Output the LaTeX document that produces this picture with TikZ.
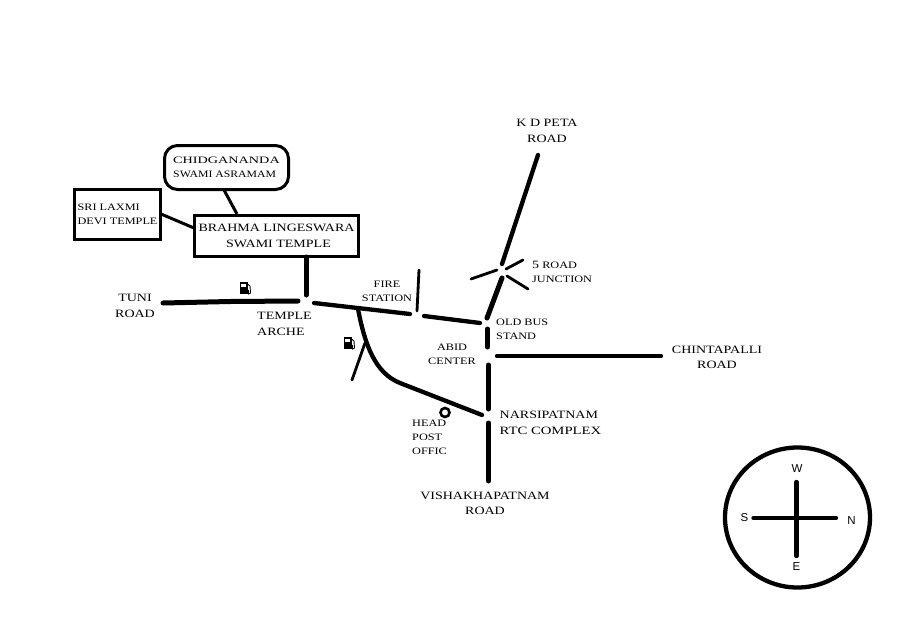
\documentclass[tikz,border=0pt]{standalone}
\usepackage{fontspec}
\usetikzlibrary{shapes.geometric}
\setmainfont[FakeStretch=1.25]{Liberation Serif}
\newfontfamily\compassfont{Liberation Sans}
\newcommand{\bigtxt}{\fontsize{11.2}{15.5}\selectfont}
\newcommand{\smalltxt}{\fontsize{9.8}{14}\selectfont}
\tikzset{
  road/.style={line width=5pt,line cap=round,black},
  midroad/.style={line width=4.3pt,line cap=round,black},
  lane/.style={line width=2.8pt,line cap=round,black},
  boxlink/.style={line width=3pt,black},
  bigbox/.style={draw,line width=3pt,inner sep=0pt,align=center,font=\bigtxt},
  smallbox/.style={draw,line width=3pt,inner sep=0pt,align=left,font=\smalltxt},
  biglabel/.style={inner sep=0pt,align=center,font=\bigtxt},
  smalllabel/.style={inner sep=0pt,align=center,font=\smalltxt},
  leftbig/.style={inner sep=0pt,align=left,anchor=west,font=\bigtxt},
  leftsmall/.style={inner sep=0pt,align=left,anchor=west,font=\smalltxt},
  compasslabel/.style={inner sep=0pt,font=\compassfont\fontsize{11.5}{13}\selectfont},
  pumpicon/.pic={
    \fill[black] (0,0) rectangle (8,12);
    \fill[white] (1.5,1.5) rectangle (6,5);
    \draw[black,line width=0.9pt] (8,2) -- (10.5,4) -- (11,11) -- (9,12) -- (8.8,8);
  }
}
\begin{document}
\begin{tikzpicture}[x=1pt,y=-1pt]
\useasboundingbox[fill=white] (0,0) rectangle (924,616);

% boxes
\node[smallbox,rounded corners=13pt,minimum width=124pt,minimum height=44pt] (chid) at (226.5,167.5) {\scalebox{1.16}[1]{CHIDGANANDA}\\\scalebox{0.96}[1]{SWAMI ASRAMAM}};
\node[smallbox,minimum width=86pt,minimum height=50pt] (laxmi) at (117.5,214.5) {SRI LAXMI\\DEVI TEMPLE};
\node[bigbox,minimum width=164pt,minimum height=41pt] (brahma) at (276.5,236) {BRAHMA LINGESWARA\\\hspace*{4pt}SWAMI TEMPLE};

% free ends of the roads
\coordinate (chidfoot) at (224,190);
\coordinate (brahmahead) at (237,214);
\coordinate (laxmifoot) at (161,214);
\coordinate (brahmaside) at (194,228);
\coordinate (brahmafoot) at (306,257);
\coordinate (archetop) at (306,295);
\coordinate (tuniend) at (163,303);
\coordinate (tunimid) at (230,301.5);
\coordinate (archeleft) at (298,301);
\coordinate (archeright) at (314,303);
\coordinate (firewest) at (410,314);
\coordinate (fireeast) at (424,316);
\coordinate (oldbuswest) at (480,323);
\coordinate (branchtop) at (358,309);
\coordinate (branchbend) at (400,383);
\coordinate (rtcwest) at (482,415);
\coordinate (branchside) at (365,343);
\coordinate (sideend) at (352,380);
\coordinate (firetop) at (419,270);
\coordinate (firefoot) at (417,311);
\coordinate (kdend) at (538,155);
\coordinate (junctiontop) at (502,264);
\coordinate (junctionfoot) at (502,278);
\coordinate (oldbusnorth) at (487,318);
\coordinate (stubeast) at (523,260);
\coordinate (stubeastin) at (506,269);
\coordinate (stubwest) at (471,279);
\coordinate (stubwestin) at (497,270);
\coordinate (stubse) at (528,289);
\coordinate (stubsein) at (507,276);
\coordinate (oldbustop) at (487.5,329);
\coordinate (oldbusfoot) at (487.5,347);
\coordinate (chintawest) at (497,356);
\coordinate (chintaeast) at (661,356);
\coordinate (abidtop) at (488.5,365);
\coordinate (abidfoot) at (488.5,409);
\coordinate (vizagtop) at (488.5,423);
\coordinate (vizagfoot) at (488.5,481);

% connectors
\draw[boxlink] (chidfoot) -- (brahmahead);
\draw[boxlink] (laxmifoot) -- (brahmaside);
\draw[road] (brahmafoot) -- (archetop);
\draw[road] (tuniend) -- (tunimid) -- (archeleft);
\draw[midroad] (archeright) -- (firewest);
\draw[midroad] (fireeast) -- (oldbuswest);
\draw[midroad] (branchtop) .. controls (365,345) and (375,373) .. (branchbend) -- (rtcwest);
\draw[lane] (branchside) -- (sideend);
\draw[lane] (firetop) -- (firefoot);
\draw[midroad] (kdend) -- (junctiontop);
\draw[road] (junctionfoot) -- (oldbusnorth);
\draw[lane] (stubeastin) -- (stubeast);
\draw[lane] (stubwestin) -- (stubwest);
\draw[lane] (stubsein) -- (stubse);
\draw[road] (oldbustop) -- (oldbusfoot);
\draw[midroad] (chintawest) -- (chintaeast);
\draw[road] (abidtop) -- (abidfoot);
\draw[road] (vizagtop) -- (vizagfoot);

% post office and fuel pumps
\node[circle,draw,line width=2.6pt,minimum size=9pt,inner sep=0pt] (post) at (445,412.5) {};
\pic at (239.5,282) {pumpicon};
\pic at (343.5,337) {pumpicon};

% labels
\node[biglabel] (kd) at (547,131) {K D PETA\\ROAD};
\node[biglabel] (tuni) at (135,306) {TUNI\\ROAD};
\node[leftbig] (arche) at (257,324) {TEMPLE\\ARCHE};
\node[smalllabel] (fire) at (387,291) {FIRE\\STATION};
\node[leftsmall] (five) at (532,272) {{\bigtxt 5} ROAD\\JUNCTION};
\node[leftsmall] (oldbus) at (496,329) {OLD BUS\\STAND};
\node[smalllabel] (abid) at (452,354.5) {ABID\\CENTER};
\node[leftsmall] (head) at (412,437) {HEAD\\POST\\OFFIC};
\node[leftbig] (rtc) at (499.5,423) {NARSIPATNAM\\\scalebox{1.05}[1]{RTC COMPLEX}};
\node[biglabel] (vizag) at (485,503.5) {VISHAKHAPATNAM\\ROAD};
\node[biglabel] (chinta) at (717,357.5) {CHINTAPALLI\\ROAD};

% compass
\node[ellipse,draw,line width=4.3pt,minimum width=145pt,minimum height=140pt,inner sep=0pt] (dial) at (797.5,517.5) {};
\coordinate (cn) at (796.5,482);
\coordinate (cs) at (796.5,556);
\coordinate (cw) at (753.5,518);
\coordinate (ce) at (836,518);
\draw[midroad] (cn) -- (cs);
\draw[midroad] (cw) -- (ce);
\node[compasslabel] (west) at (797,469) {W};
\node[compasslabel] (south) at (744.5,518) {S};
\node[compasslabel] (north) at (851.5,520.5) {N};
\node[compasslabel] (east) at (796.5,567) {E};
\end{tikzpicture}
\end{document}
